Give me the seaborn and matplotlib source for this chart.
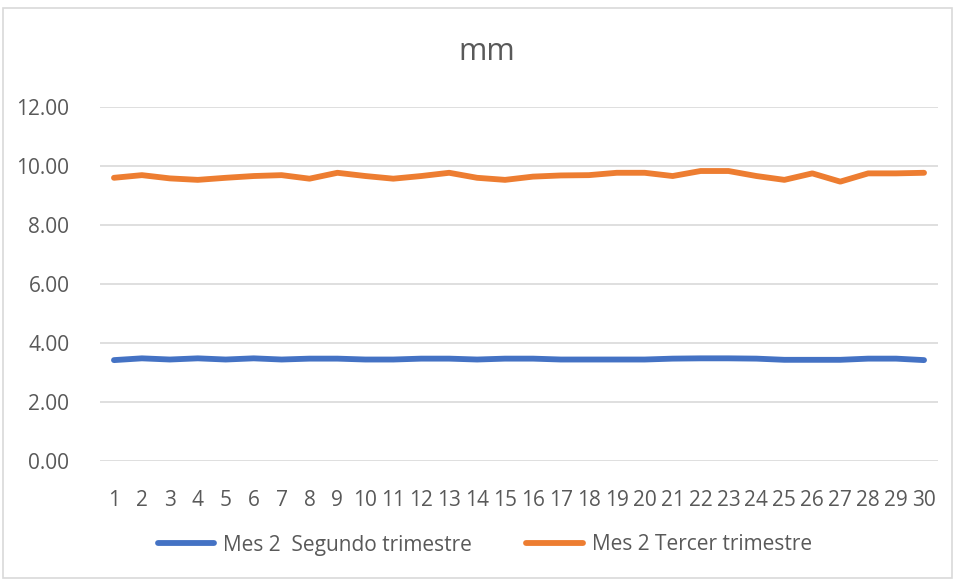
import numpy as np
import pandas as pd
import matplotlib
matplotlib.use("Agg")
import matplotlib.pyplot as plt
import seaborn as sns
from matplotlib.patches import Rectangle

# Daily measurements (mm) for month 2 of each trimester
dias = list(range(1, 31))
segundo_trimestre = [3.42, 3.48, 3.44, 3.48, 3.44, 3.48, 3.44, 3.47, 3.47, 3.44,
                     3.44, 3.47, 3.47, 3.44, 3.47, 3.47, 3.44, 3.44, 3.44, 3.44,
                     3.47, 3.48, 3.48, 3.47, 3.43, 3.43, 3.43, 3.47, 3.47, 3.42]
tercer_trimestre = [9.60, 9.69, 9.58, 9.53, 9.60, 9.66, 9.69, 9.57, 9.77, 9.66,
                    9.57, 9.66, 9.77, 9.60, 9.53, 9.64, 9.68, 9.69, 9.77, 9.77,
                    9.66, 9.83, 9.83, 9.66, 9.53, 9.75, 9.47, 9.75, 9.75, 9.77]
series_names = ["Mes 2  Segundo trimestre", "Mes 2 Tercer trimestre"]
series_colors = ["#4472C4", "#ED7D31"]
titulo = "mm"
y_ticks = [0, 2, 4, 6, 8, 10, 12]

df = pd.DataFrame({
    "dia": dias * 2,
    "valor": segundo_trimestre + tercer_trimestre,
    "serie": [series_names[0]] * len(dias) + [series_names[1]] * len(dias),
})

sns.set_theme(style="white")
plt.rcParams["font.family"] = ["Open Sans", "DejaVu Sans"]
text_color = "#595959"

fig = plt.figure(figsize=(9.55, 5.81), dpi=100)
ax = fig.add_axes([100 / 955, 1 - 461 / 581, 838 / 955, 354 / 581])

sns.lineplot(data=df, x="dia", y="valor", hue="serie", hue_order=series_names,
             palette=series_colors, linewidth=4.2, ax=ax, legend=True,
             solid_capstyle="round", solid_joinstyle="round")

ax.set_xlim(0.5, 30.5)
ax.set_ylim(0, 12)
ax.set_yticks(y_ticks)
ax.set_yticklabels([f"{v:.2f}" for v in y_ticks])
ax.set_xticks(dias)
ax.set_xticklabels([str(d) for d in dias])
ax.tick_params(axis="both", length=0, labelsize=15, colors=text_color)
ax.tick_params(axis="y", pad=22)
ax.tick_params(axis="x", pad=21)
ax.yaxis.grid(True, color="#D9D9D9", linewidth=1.2)
ax.xaxis.grid(False)
ax.set_axisbelow(True)
for s in ax.spines.values():
    s.set_visible(False)
ax.set_xlabel("")
ax.set_ylabel("")

fig.text(487 / 955, 1 - 52 / 581, titulo,
         ha="center", va="center", fontsize=22, color=text_color)

handles, labels = ax.get_legend_handles_labels()
ax.get_legend().remove()
leg = fig.legend(handles, labels, loc="center", bbox_to_anchor=(485 / 955, 1 - 545 / 581),
                 ncol=2, frameon=False, fontsize=15, handlelength=2.7,
                 handletextpad=0.45, columnspacing=2.6)
for t in leg.get_texts():
    t.set_color(text_color)
for h in leg.get_lines():
    h.set_linewidth(4.2)

fig.patches.append(Rectangle((3 / 955, 3 / 581), 949 / 955, 570 / 581,
                             transform=fig.transFigure, fill=False,
                             edgecolor="#D9D9D9", linewidth=1.2))

fig.savefig("out.png", dpi=100, facecolor="white")
